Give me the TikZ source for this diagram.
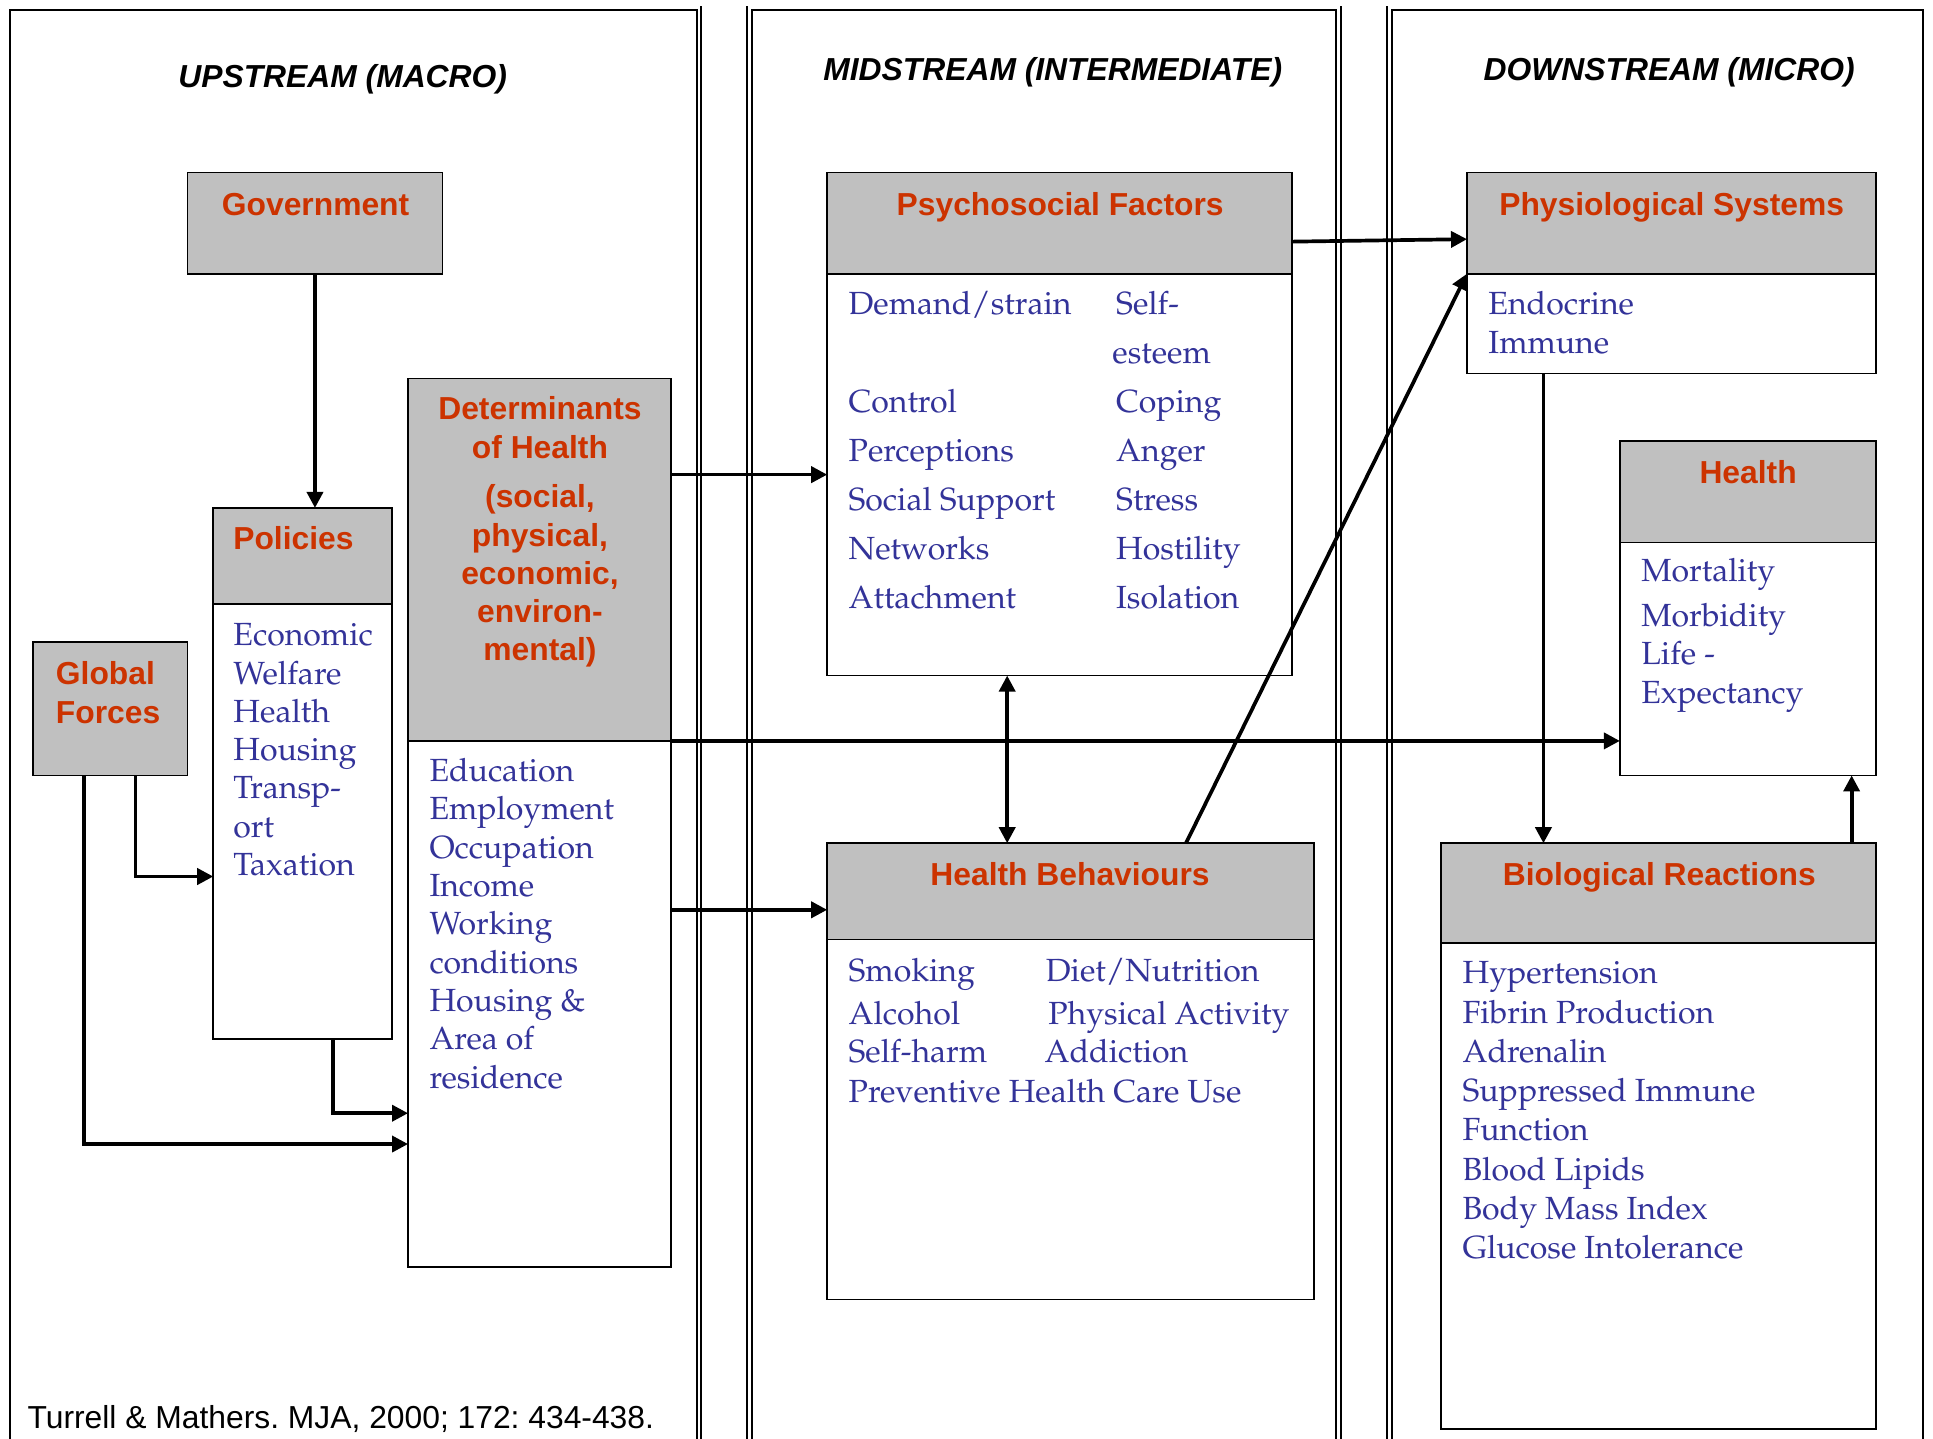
\documentclass[tikz,border=0pt]{standalone}
\usepackage[T1]{fontenc}
\usepackage{fontspec}
\newfontfamily\arialf{Liberation Sans}
\newcommand\palf{\fontencoding{T1}\fontfamily{ppl}\selectfont}
\usetikzlibrary{arrows.meta,calc}
\definecolor{headred}{RGB}{204,51,0}
\definecolor{itemblue}{RGB}{51,51,153}
\definecolor{boxgray}{RGB}{192,192,192}
\tikzset{>={Triangle[length=6.5pt,width=6.5pt]}}
\frenchspacing

\begin{document}
\begin{tikzpicture}[x=0.5pt,y=-0.5pt,
  hd/.style={draw,fill=boxgray,line width=0.7pt,anchor=north west,inner sep=0pt,outer sep=0pt},
  bd/.style={draw,fill=white,line width=0.7pt,anchor=north west,inner sep=0pt,outer sep=0pt},
  hdtxt/.style={font=\arialf\bfseries\fontsize{12.9}{15}\selectfont,text=headred,anchor=base,inner sep=0pt},
  item/.style={font=\palf\fontsize{13}{15}\selectfont,text=itemblue,anchor=base west,inner sep=0pt},
  ttl/.style={font=\arialf\bfseries\itshape\fontsize{12.9}{15}\selectfont,anchor=base,inner sep=0pt},
  arr/.style={->,line width=1.5pt},
  panel/.style={line width=0.8pt}]
\useasboundingbox[fill=white] (0,0) rectangle (1568,1167);
% the three streams
\draw[panel] (8,1170) -- (8,8) -- (565,8) -- (565,1170);
\draw[panel] (569,5) -- (569,1170);
\draw[panel] (606,5) -- (606,1170);
\draw[panel] (610,1170) -- (610,8) -- (1084,8) -- (1084,1170);
\draw[panel] (1088,5) -- (1088,1170);
\draw[panel] (1125,5) -- (1125,1170);
\draw[panel] (1129,1170) -- (1129,8) -- (1560,8) -- (1560,1170);
\node[ttl] (up) at (278,71) {UPSTREAM (MACRO)};
\node[ttl] (mid) at (854,65) {MIDSTREAM (INTERMEDIATE)};
\node[ttl] (down) at (1354,65) {DOWNSTREAM (MICRO)};
\node[font=\arialf\fontsize{12.9}{15}\selectfont,anchor=base west,inner sep=0pt] (src) at (22,1159) {Turrell \& Mathers. MJA, 2000; 172: 434-438.};

% boxes
\node[hd,minimum width=103.5pt,minimum height=41pt] (gov) at (152,140) {};
\node[hd,minimum width=72.5pt,minimum height=39pt] (polH) at (173,412) {};
\node[bd,minimum width=72.5pt,minimum height=176.5pt] (polB) at (173,490) {};
\node[hd,minimum width=62.5pt,minimum height=54pt] (glob) at (27,521) {};
\node[hd,minimum width=106.5pt,minimum height=147pt] (detH) at (331,307) {};
\node[bd,minimum width=106.5pt,minimum height=213.5pt] (detB) at (331,601) {};
\node[hd,minimum width=188.5pt,minimum height=41pt] (psyH) at (671,140) {};
\node[bd,minimum width=188.5pt,minimum height=163pt] (psyB) at (671,222) {};
\node[hd,minimum width=197.5pt,minimum height=39pt] (hbH) at (671,684) {};
\node[bd,minimum width=197.5pt,minimum height=146pt] (hbB) at (671,762) {};
\node[hd,minimum width=166pt,minimum height=41pt] (phyH) at (1190,140) {};
\node[bd,minimum width=166pt,minimum height=40.5pt] (phyB) at (1190,222) {};
\node[hd,minimum width=104pt,minimum height=41pt] (hlthH) at (1314,358) {};
\node[bd,minimum width=104pt,minimum height=94.5pt] (hlthB) at (1314,440) {};
\node[hd,minimum width=176.5pt,minimum height=40.5pt] (bioH) at (1169,684) {};
\node[bd,minimum width=176.5pt,minimum height=197pt] (bioB) at (1169,765) {};

% headings
\node[hdtxt] (govT) at (256,175) {Government};
\node[hdtxt] (polT) at (238,446) {Policies};
\node[hdtxt,anchor=base west] (globT1) at (45,555) {Global};
\node[hdtxt,anchor=base west] (globT2) at (45,587) {Forces};
\node[hdtxt] (detT1) at (438,340) {Determinants};
\node[hdtxt] (detT2) at (438,372) {of Health};
\node[hdtxt] (detS0) at (438,412) {(social,};
\node[hdtxt] (detS1) at (438,443) {physical,};
\node[hdtxt] (detS2) at (438,474) {economic,};
\node[hdtxt] (detS3) at (438,505) {environ-};
\node[hdtxt] (detS4) at (438,536) {mental)};
\node[hdtxt] (psyT) at (860,175) {Psychosocial Factors};
\node[hdtxt] (hbT) at (868,718) {Health Behaviours};
\node[hdtxt] (phyT) at (1356,175) {Physiological Systems};
\node[hdtxt] (hlthT) at (1418,392) {Health};
\node[hdtxt] (bioT) at (1346,718) {Biological Reactions};

% items
\foreach \t [count=\i from 0] in {Economic,Welfare,Health,Housing,Transp-,ort,Taxation}
  \node[item] (pol\i) at (189,524+31*\i) {\t};
\foreach \t [count=\i from 0] in {Education,Employment,Occupation,Income,Working,conditions,Housing \&,Area of,residence}
  \node[item] (det\i) at (348,634+31.1*\i) {\t};
\node[item] (psyA0) at (688,255) {Demand/strain};
\foreach \t [count=\i from 2] in {Control,Perceptions,Social Support,Networks,Attachment}
  \node[item] (psyA\i) at (688,255+39.7*\i) {\t};
\node[item] (psyB0) at (905,255) {Self-};
\node[item] (psyB1) at (902,295) {esteem};
\foreach \t [count=\i from 2] in {Coping,Anger,Stress,Hostility,Isolation}
  \node[item] (psyB\i) at (905,255+39.7*\i) {\t};
\node[item] (hb1) at (688,796) {Smoking};
\node[item] (hb2) at (688,831) {Alcohol};
\node[item] (hb3) at (688,862) {Self-harm};
\node[item] (hb4) at (688,894) {Preventive Health Care Use};
\node[item] (hb5) at (848,796) {Diet/Nutrition};
\node[item] (hb6) at (850,831) {Physical Activity};
\node[item] (hb7) at (847,862) {Addiction};
\node[item] (phy1) at (1207,255) {Endocrine};
\node[item] (phy2) at (1207,287) {Immune};
\node[item] (hlth1) at (1331,472) {Mortality};
\node[item] (hlth2) at (1331,508) {Morbidity};
\node[item] (hlth3) at (1331,539) {Life -};
\node[item] (hlth4) at (1331,571) {Expectancy};
\foreach \t [count=\i from 0] in {Hypertension,Fibrin Production,Adrenalin,Suppressed Immune,Function,Blood Lipids,Body Mass Index,Glucose Intolerance}
  \node[item] (bio\i) at (1186,798+31.86*\i) {\t};

% connectors
\coordinate (hbIn) at ([yshift=12pt]hbH.south west);
\draw[arr] (gov.south) -- (gov.south |- polH.north);
\draw[arr] ([xshift=41.5pt]glob.south west) |- ([yshift=-110.5pt]polB.north west);
\draw[arr] ([xshift=20.5pt]glob.south west) |- ([yshift=-163.5pt]detB.north west);
\draw[arr] ([xshift=48.5pt]polB.south west) |- ([yshift=-151pt]detB.north west);
\draw[arr] (detH.east |- psyB.west) -- (psyB.west);
\draw[arr] (detH.south east) -- (detH.south east -| hlthB.west);
\draw[arr] (detB.east |- hbIn) -- (hbIn);
\draw[<->,line width=1.5pt] ([xshift=73pt]psyB.south west) -- ([xshift=73pt]hbH.north west);
\draw[arr] ([yshift=-7.5pt]psyH.east) -- ([yshift=-6.5pt]phyH.west);
\draw[arr] ([xshift=145.5pt]hbH.north west) -- (phyB.north west);
\draw[arr] ([xshift=31pt]phyB.south west) -- ([xshift=41.5pt]bioH.north west);
\draw[arr] ([xshift=166.5pt]bioH.north west) -- ([xshift=94pt]hlthB.south west);
\end{tikzpicture}
\end{document}
